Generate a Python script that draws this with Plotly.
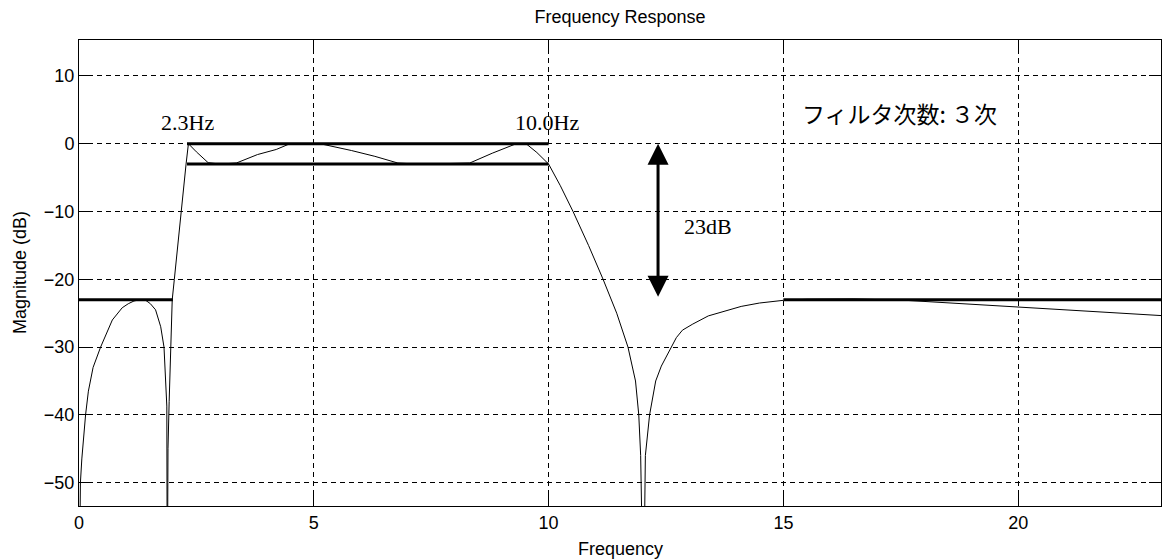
import plotly.graph_objects as go

# Frequency response curve
freq = [0.00, 0.03, 0.06, 0.10, 0.14, 0.20, 0.30, 0.46, 0.60, 0.71, 0.92, 1.05, 1.17, 1.30, 1.42, 1.52,
        1.63, 1.74, 1.81, 1.86, 1.87, 1.88, 1.895, 1.92, 1.96, 1.985, 2.03, 2.10, 2.18, 2.25, 2.28, 2.33,
        2.50, 2.75, 3.00, 3.35, 3.80, 4.20, 4.49, 4.80, 5.20, 5.80, 6.30, 6.79, 7.20, 7.70, 8.32, 8.80,
        9.31, 9.52, 9.75, 10.00, 10.25, 10.52, 10.85, 11.16, 11.45, 11.69, 11.85, 11.92, 11.96, 12.02,
        12.06, 12.15, 12.28, 12.40, 12.55, 12.72, 12.85, 13.07, 13.40, 13.78, 14.10, 14.49, 15.00, 15.50,
        16.50, 17.60, 18.20, 18.85, 19.60, 20.25, 20.80, 21.40, 21.95, 22.50, 23.04]
mag = [-70.0, -50.0, -46.5, -43.0, -40.0, -36.5, -33.0, -30.0, -27.8, -26.0, -24.2, -23.6, -23.2, -23.0, -23.1, -23.6,
       -24.5, -27.0, -30.0, -35.8, -38.7, -70.0, -45.0, -38.0, -30.0, -23.0, -20.0, -15.0, -10.0, -5.0, -3.0, 0.0,
       -1.2, -2.8, -3.0, -2.85, -1.6, -0.85, 0.0, 0.0, -0.1, -1.0, -1.86, -2.85, -3.0, -2.95, -2.85, -1.4,
       0.0, 0.0, -1.3, -3.0, -6.2, -10.0, -15.0, -20.0, -25.0, -30.0, -35.0, -40.0, -46.0, -70.0,
       -46.0, -40.0, -35.0, -32.8, -30.8, -28.6, -27.5, -26.6, -25.4, -24.6, -24.0, -23.5, -23.1, -22.95,
       -22.9, -23.1, -23.35, -23.6, -23.9, -24.2, -24.45, -24.7, -24.95, -25.15, -25.35]

# Specification mask lines
mask_x = [[0.0, 2.0], [2.3, 10.0], [2.3, 10.0], [15.0, 23.04]]
mask_y = [[-23.0, -23.0], [0.0, 0.0], [-3.0, -3.0], [-23.0, -23.0]]

x_ticks = [0, 5, 10, 15, 20]
y_ticks = [-50, -40, -30, -20, -10, 0, 10]
x_range = [0, 23.04]
y_range = [-53.44, 15.30]

fig = go.Figure()
for mx, my in zip(mask_x, mask_y):
    fig.add_trace(go.Scatter(x=mx, y=my, mode="lines", line=dict(color="black", width=3),
                             showlegend=False, hoverinfo="skip"))
fig.add_trace(go.Scatter(x=freq, y=mag, mode="lines", line=dict(color="black", width=1),
                         showlegend=False))

axis_common = dict(showline=True, linecolor="black", linewidth=1, mirror="ticks",
                   ticks="inside", ticklen=12, tickcolor="black", tickwidth=1,
                   showgrid=True, gridcolor="black", gridwidth=1, griddash="5px,4px",
                   zeroline=False, tickfont=dict(family="Liberation Sans, Arial", size=18, color="black"))

fig.update_xaxes(range=x_range, tickvals=x_ticks, **axis_common)
fig.update_yaxes(range=y_range, tickvals=y_ticks, **axis_common)

serif = dict(family="Liberation Serif, Times New Roman", size=22, color="black")
fig.add_annotation(x=2.32, y=3.07, text="2.3Hz", showarrow=False, font=serif)
fig.add_annotation(x=9.97, y=3.07, text="10.0Hz", showarrow=False, font=serif)
fig.add_annotation(x=13.39, y=-12.2, text="23dB", showarrow=False, font=serif)
fig.add_annotation(x=17.48, y=4.54, text="フィルタ次数: ３次", showarrow=False,
                   font=dict(family="Noto Sans CJK JP", size=23, color="black"))
# double-headed arrow (23 dB)
fig.add_annotation(x=12.33, y=0.0, ax=12.33, ay=-22.8, xref="x", yref="y", axref="x", ayref="y",
                   text="", showarrow=True, arrowhead=2, startarrowhead=2, arrowside="end+start",
                   arrowwidth=3, arrowsize=1.4, startarrowsize=1.4, arrowcolor="black")

label_font = dict(family="Liberation Sans, Arial", size=18, color="black")
fig.add_annotation(xref="paper", yref="paper", x=0.5, y=0, yanchor="middle", yshift=-43,
                   text="Frequency", showarrow=False, font=label_font)
fig.add_annotation(xref="paper", yref="paper", x=0, y=0.5, xanchor="center", xshift=-59,
                   text="Magnitude (dB)", textangle=-90, showarrow=False, font=label_font)

fig.update_layout(
    width=1162, height=559,
    margin=dict(l=79, r=1, t=40, b=53),
    paper_bgcolor="white", plot_bgcolor="white",
    title=dict(text="Frequency Response", x=0.5, xref="paper", y=1 - 17 / 559, yref="container",
               xanchor="center", yanchor="middle", font=label_font),
)

fig.write_html("out.html")
